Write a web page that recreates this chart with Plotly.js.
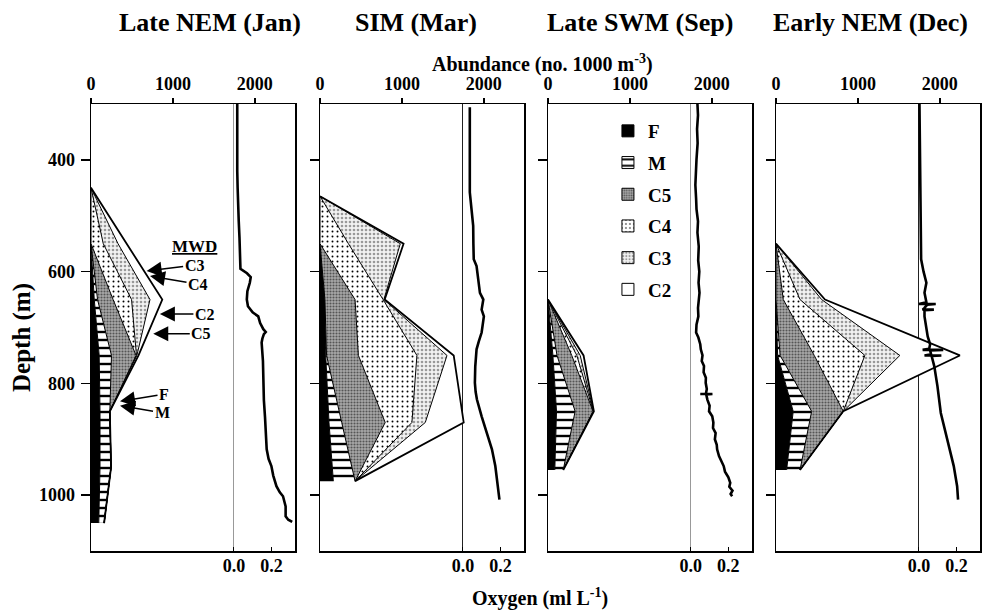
<!DOCTYPE html>
<html><head><meta charset="utf-8">
<script src="https://cdn.plot.ly/plotly-3.0.1.min.js"></script>
<style>html,body{margin:0;padding:0;background:#fff}</style>
</head><body><div id="chart" style="width:995px;height:615px"></div>
<script>
// ---------- DATA ----------
const panelTitles = ['Late NEM (Jan)', 'SIM (Mar)', 'Late SWM (Sep)', 'Early NEM (Dec)'];
const stages = ['F', 'M', 'C5', 'C4', 'C3', 'C2'];
const abundTicks = [0, 1000, 2000];
const abundTickText = ['0', '1000', '2000'];
const depthTicks = [400, 600, 800, 1000];
const oxyTicks = [0, 0.2];
const oxyTickText = ['0.0', '0.2'];

// Late NEM (Jan) - abundance per stage (no. 1000 m-3)
const janDepth = [450, 550, 650, 750, 850, 950, 1050];
const janF  = [0, 0, 40, 100, 110, 110, 95];
const janM  = [0, 0, 40, 150, 120, 135, 65];
const janC5 = [0, 0, 190, 300, 0, 0, 0];
const janC4 = [0, 150, 225, 5, 0, 0, 0];
const janC3 = [0, 180, 225, 5, 0, 0, 0];
const janC2 = [0, 105, 150, 20, 0, 0, 0];
const janOxyDepth = [300,340,380,420,450,480,510,540,570,595,603,610,620,635,650,662,673,680,692,703,708,712,720,727,760,800,830,860,890,918,935,948,965,984,995,1002,1020,1038,1044,1048];
const janOxy = [0.018,0.017,0.019,0.018,0.02,0.022,0.026,0.03,0.033,0.035,0.07,0.09,0.085,0.072,0.069,0.075,0.1,0.13,0.14,0.157,0.17,0.16,0.152,0.148,0.155,0.157,0.16,0.166,0.17,0.175,0.185,0.2,0.21,0.227,0.245,0.262,0.276,0.276,0.29,0.311];

// SIM (Mar)
const marDepth = [465, 550, 650, 750, 870, 975];
const marF  = [0, 0, 60, 70, 110, 163];
const marM  = [0, 0, 0, 10, 155, 265];
const marC5 = [0, 0, 368, 389, 531, 0];
const marC4 = [0, 347, 342, 714, 326, 0];
const marC3 = [0, 633, 10, 367, 163, 0];
const marC2 = [0, 40, 10, 82, 469, 0];
const marOxyDepth = [306,350,400,458,488,518,550,578,590,610,638,650,668,680,700,709,725,739,770,799,815,829,859,889,918,948,978,995,1008];
const marOxy = [0.037,0.036,0.038,0.037,0.046,0.055,0.056,0.058,0.073,0.08,0.091,0.109,0.1,0.112,0.105,0.1,0.085,0.073,0.066,0.064,0.068,0.075,0.1,0.127,0.155,0.173,0.182,0.19,0.195];

// Late SWM (Sep)
const sepDepth = [650, 750, 850, 955];
const sepF  = [0, 60, 104, 83];
const sepM  = [0, 50, 227, 103];
const sepC5 = [0, 180, 219, 0];
const sepC4 = [0, 62, 3, 0];
const sepC3 = [0, 41, 3, 0];
const sepC2 = [0, 41, 4, 0];
const sepOxyDepth = [300,320,345,370,399,420,445,470,488,510,530,555,580,600,620,638,650,665,680,695,709,718,730,739,750,760,769,780,790,799,810,819,819,819,820,829,840,850,859,870,880,889,900,910,918,930,940,948,958,968,978,985,992,998,1002];
const sepOxy = [0.035,0.038,0.033,0.036,0.03,0.027,0.024,0.028,0.03,0.038,0.035,0.042,0.039,0.045,0.041,0.046,0.044,0.038,0.04,0.03,0.028,0.04,0.05,0.053,0.062,0.058,0.07,0.068,0.08,0.079,0.085,0.08,0.05,0.115,0.082,0.088,0.1,0.097,0.114,0.12,0.118,0.132,0.128,0.138,0.14,0.15,0.162,0.175,0.182,0.2,0.21,0.205,0.222,0.212,0.22];

// Early NEM (Dec)
const decDepth = [550, 650, 750, 850, 955];
const decF  = [0, 0, 20, 210, 130];
const decM  = [0, 0, 30, 225, 163];
const decC5 = [0, 89, 417, 386, 0];
const decC4 = [0, 204, 618, 0, 0];
const decC3 = [0, 264, 427, 0, 0];
const decC2 = [0, 41, 732, 0, 0];
const decOxyDepth = [297,350,400,450,500,540,578,600,620,638,650,655,658,658,659,665,668,668,669,680,700,716,730,738,740,740,741,748,750,750,751,769,805,853,901,948,984,1008];
const decOxy = [0.003,0.004,0.005,0.006,0.008,0.01,0.012,0.025,0.04,0.03,0.035,0.04,0.0,0.09,0.045,0.03,0.02,0.08,0.03,0.03,0.04,0.047,0.06,0.055,0.02,0.13,0.06,0.065,0.03,0.12,0.068,0.082,0.099,0.117,0.151,0.186,0.204,0.209];

// MWD markers (panel 1)
const mwdLabels = ['C3', 'C4', 'C2', 'C5', 'F', 'M'];
const mwdAbund  = [679, 720, 841, 760, 354, 354];
const mwdDepth  = [599, 608, 676, 711, 832, 840];

// ---------- STYLE ----------
const FONT = 'Liberation Serif, Times New Roman, serif';
const stageStyle = {
  F:  {fillcolor: '#000000', pattern: null},
  M:  {fillcolor: '#ffffff', pattern: {shape: '-', fgcolor: '#000', bgcolor: '#fff', size: 8, solidity: 0.3}},
  C5: {fillcolor: '#a0a0a0', pattern: {shape: '.', fgcolor: '#555', bgcolor: '#a8a8a8', size: 3, solidity: 0.4}},
  C4: {fillcolor: '#ffffff', pattern: {shape: '.', fgcolor: '#000', bgcolor: '#fff', size: 5, solidity: 0.12}},
  C3: {fillcolor: '#eeeeee', pattern: {shape: '.', fgcolor: '#999', bgcolor: '#f2f2f2', size: 4, solidity: 0.35}},
  C2: {fillcolor: '#ffffff', pattern: null}
};
const panels = [
  {depth: janDepth, vals: [janF, janM, janC5, janC4, janC3, janC2], oDepth: janOxyDepth, oxy: janOxy, zc: '#999'},
  {depth: marDepth, vals: [marF, marM, marC5, marC4, marC3, marC2], oDepth: marOxyDepth, oxy: marOxy, zc: '#222'},
  {depth: sepDepth, vals: [sepF, sepM, sepC5, sepC4, sepC3, sepC2], oDepth: sepOxyDepth, oxy: sepOxy, zc: '#999'},
  {depth: decDepth, vals: [decF, decM, decC5, decC4, decC3, decC2], oDepth: decOxyDepth, oxy: decOxy, zc: '#222'}
];
const W = 995, H = 615;
const xPix = [[91, 295], [320, 524], [548, 752], [776, 980]];
const yDom = [1 - 551 / H, 1 - 104 / H];
const tickFont = {family: FONT, size: 18, weight: 'bold', color: '#000'};

const traces = [];
const layout = {
  width: W, height: H, margin: {l: 0, r: 0, t: 0, b: 0},
  paper_bgcolor: '#fff', plot_bgcolor: '#fff',
  font: {family: FONT, color: '#000'},
  showlegend: true,
  legend: {x: 0.611, y: 1 - 112 / H, xanchor: 'left', yanchor: 'top', bgcolor: 'rgba(0,0,0,0)',
           font: {family: FONT, size: 19, weight: 'bold', color: '#000'}, tracegroupgap: 4,
           traceorder: 'grouped', itemclick: false, itemdoubleclick: false},
  annotations: []
};

panels.forEach((p, i) => {
  const ax = 2 * i + 1, ox = 2 * i + 2, yy = i + 1;
  const xa = ax === 1 ? 'x' : 'x' + ax;
  const xo = 'x' + ox;
  const ya = yy === 1 ? 'y' : 'y' + yy;
  const dom = [xPix[i][0] / W, xPix[i][1] / W];
  layout[ax === 1 ? 'xaxis' : 'xaxis' + ax] = {
    domain: dom, anchor: ya, side: 'top', range: [0, 2490], tickvals: abundTicks, ticktext: abundTickText,
    ticks: 'outside', ticklen: 5, tickwidth: 1.5, tickcolor: '#000', showline: true, linecolor: '#000', linewidth: 1.5,
    mirror: true, showgrid: false, zeroline: false, tickfont: tickFont, ticklabelstandoff: 0, fixedrange: true
  };
  layout['xaxis' + ox] = {
    overlaying: xa, anchor: ya, side: 'bottom', range: [-0.762, 0.326], tickvals: oxyTicks, ticktext: oxyTickText,
    ticks: 'inside', ticklen: 4, tickwidth: 1, tickcolor: '#000', showline: false, showgrid: false,
    zeroline: true, zerolinecolor: p.zc, zerolinewidth: 1.2, tickfont: tickFont, ticklabelstandoff: 2, fixedrange: true
  };
  layout[yy === 1 ? 'yaxis' : 'yaxis' + yy] = {
    domain: yDom, anchor: xa, range: [1100, 300], tickvals: depthTicks, ticks: 'outside', ticklen: 9, tickwidth: 1.5,
    tickcolor: '#000', showline: true, linecolor: '#000', linewidth: 1.5, mirror: true, showgrid: false, zeroline: false,
    showticklabels: i === 0, tickfont: tickFont, ticklabelstandoff: 2, fixedrange: true
  };
  stages.forEach((s, k) => {
    const st = stageStyle[s];
    const t = {
      type: 'scatter', mode: 'lines', x: p.vals[k], y: p.depth, xaxis: xa, yaxis: ya,
      stackgroup: 'g' + i, orientation: 'h',
      line: {color: '#000', width: s === 'C2' ? 1.8 : 1, shape: 'linear'},
      fillcolor: st.fillcolor, showlegend: false, hoverinfo: 'skip', name: s
    };
    if (st.pattern) t.fillpattern = Object.assign({fillmode: 'replace'}, st.pattern);
    traces.push(t);
  });
  traces.push({
    type: 'scatter', mode: 'lines', x: p.oxy, y: p.oDepth, xaxis: xo, yaxis: ya,
    line: {color: '#000', width: 2.6}, showlegend: false, hoverinfo: 'skip', name: 'Oxygen'
  });
  layout.annotations.push({
    xref: 'paper', yref: 'paper', x: [210, 416, 640, 870][i] / W, y: 1 - 23 / H, xanchor: 'center', yanchor: 'middle',
    text: panelTitles[i], showarrow: false, font: {family: FONT, size: 26, weight: 'bold', color: '#000'}
  });
});

// legend-only swatches
stages.forEach((s, k) => {
  const st = stageStyle[s];
  const m = {color: st.fillcolor, line: {color: '#000', width: 1}};
  if (st.pattern) m.pattern = Object.assign({}, st.pattern);
  traces.push({type: 'bar', x: [null], y: [null], xaxis: 'x5', yaxis: 'y3', name: s, marker: m,
               legendgroup: 'lg' + k, showlegend: true, hoverinfo: 'skip'});
});

// axis titles
layout.annotations.push(
  {xref: 'paper', yref: 'paper', x: 542 / W, y: 1 - 64 / H, xanchor: 'center', yanchor: 'middle', showarrow: false,
   text: 'Abundance (no. 1000 m<sup>-3</sup>)', font: {family: FONT, size: 20, weight: 'bold', color: '#000'}},
  {xref: 'paper', yref: 'paper', x: 540 / W, y: 1 - 597 / H, xanchor: 'center', yanchor: 'middle', showarrow: false,
   text: 'Oxygen (ml L<sup>-1</sup>)', font: {family: FONT, size: 20, weight: 'bold', color: '#000'}},
  {xref: 'paper', yref: 'paper', x: 22 / W, y: 1 - 338 / H, xanchor: 'center', yanchor: 'middle', showarrow: false,
   textangle: -90, text: 'Depth (m)', font: {family: FONT, size: 25, weight: 'bold', color: '#000'}},
  {xref: 'paper', yref: 'paper', x: 194 / W, y: 1 - 246 / H, xanchor: 'center', yanchor: 'middle', showarrow: false,
   text: '<u>MWD</u>', font: {family: FONT, size: 17, weight: 'bold', color: '#000'}}
);
const mwdOffsets = [[48, -6], [48, 8], [45, 0], [48, 0], [44, -7], [42, 7]];
mwdLabels.forEach((lab, k) => {
  layout.annotations.push({
    xref: 'x', yref: 'y', x: mwdAbund[k], y: mwdDepth[k], text: lab, showarrow: true,
    ax: mwdOffsets[k][0], ay: mwdOffsets[k][1], arrowhead: 2, arrowsize: 2, arrowwidth: 1.5, arrowcolor: '#000',
    standoff: 0, startstandoff: 1, borderpad: 0, font: {family: FONT, size: 16, weight: 'bold', color: '#000'}
  });
});

Plotly.newPlot('chart', traces, layout, {displayModeBar: false, staticPlot: true});
</script>
</body></html>
